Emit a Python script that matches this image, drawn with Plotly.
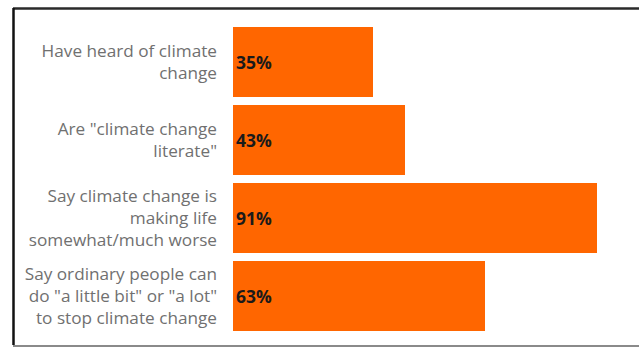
import plotly.graph_objects as go

categories = [
    "Have heard of climate<br>change",
    "Are \"climate change<br>literate\"",
    "Say climate change is<br>making life<br>somewhat/much worse",
    "Say ordinary people can<br>do \"a little bit\" or \"a lot\"<br>to stop climate change",
]
values = [35, 43, 91, 63]
value_labels = ["35%", "43%", "91%", "63%"]

W, H = 639, 347
ML, MR, MT, MB = 233, 6, 23, 12
PW, PH = W - ML - MR, H - MT - MB


def px_x(px):
    return (px - ML) / PW


def px_y(py):
    return (H - MB - py) / PH


fig = go.Figure(
    go.Bar(
        x=values,
        y=categories,
        orientation="h",
        marker=dict(color="#FF6600", line=dict(width=0)),
        text=value_labels,
        textposition="inside",
        insidetextanchor="start",
        textfont=dict(family="Open Sans", size=17.5, color="#1a1a1a", weight="bold"),
        textangle=0,
        width=0.9,
    )
)

fig.update_layout(
    width=W,
    height=H,
    margin=dict(l=ML, r=MR, t=MT, b=MB, pad=0),
    paper_bgcolor="white",
    plot_bgcolor="white",
    showlegend=False,
    bargap=0.1,
    xaxis=dict(range=[0, 100], visible=False, fixedrange=True),
    yaxis=dict(
        autorange="reversed",
        showgrid=False,
        zeroline=False,
        showline=False,
        ticks="",
        ticklabelstandoff=15,
        tickfont=dict(family="Open Sans", size=17.2, color="#707070"),
    ),
    shapes=[
        dict(type="line", xref="paper", yref="paper",
             x0=px_x(13), x1=px_x(645), y0=px_y(8.5), y1=px_y(8.5),
             line=dict(color="#2a2a2a", width=2.5)),
        dict(type="line", xref="paper", yref="paper",
             x0=px_x(13.5), x1=px_x(13.5), y0=px_y(8), y1=px_y(345),
             line=dict(color="#111111", width=2.5)),
        dict(type="line", xref="paper", yref="paper",
             x0=px_x(13), x1=px_x(645), y0=px_y(346), y1=px_y(346),
             line=dict(color="#8a8a8a", width=2)),
    ],
)

fig.write_html("out.html")
